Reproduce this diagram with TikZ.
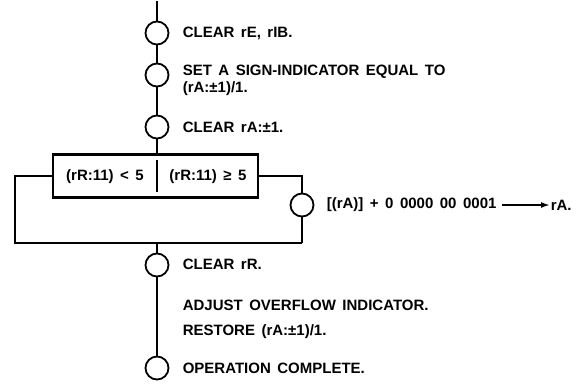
\documentclass[tikz,border=0pt]{standalone}
\usepackage{fontspec}
\setmainfont{Liberation Sans}
\usepackage{tikz}
\usetikzlibrary{arrows.meta,positioning}

\newcommand{\opfont}{\bfseries\fontsize{15}{17}\selectfont\spaceskip=6.5pt plus 1pt}

\begin{document}
\begin{tikzpicture}[
    x=1pt,y=-1pt,line width=1.6pt,
    opcircle/.style={draw,circle,minimum size=23pt,inner sep=0pt,line width=1.8pt},
    opnote/.style={anchor=west,align=left,inner sep=0pt,font=\opfont},
    testbox/.style={draw,line width=2.3pt,minimum width=205pt,minimum height=43pt,inner sep=0pt},
    testnote/.style={inner sep=0pt,font=\opfont},
    arrow/.style={-{Latex[length=9pt,width=6pt]},line width=2pt}
]
\useasboundingbox (0,0) rectangle (585,389);

% main line
\coordinate (start) at (157,1);
\node[opcircle] (clrE) at (157,33) {};
\node[opcircle] (sign) at (157,75) {};
\node[opcircle] (clrA) at (157,127) {};
\node[testbox] (tests) at (155.5,176) {};
\node[opcircle] (incr) at (302,205) {};
\node[opcircle] (clrR) at (157,265) {};
\node[opcircle] (done) at (157,368) {};
\coordinate (loopL) at (15,243);
\coordinate (loopR) at (302,243);

\node[opnote] (tclrE) at (182,33) {CLEAR rE, rIB.};
\node[opnote] (tsign) at (182,80) {SET A SIGN-INDICATOR EQUAL TO\\(rA:±1)/1.};
\node[opnote] (tclrA) at (182,127) {CLEAR rA:±1.};
\node[testnote] (lt) at (105,177) {(rR:11) < 5};
\node[testnote] (ge) at (208,177) {(rR:11) ≥ 5};
\node[opnote] (tincr) at (326,205) {[(rA)] + 0 0000 00 0001};
\node[opnote] (tincrA) at (550,205) {rA.};
\node[opnote] (tclrR) at (182,264) {CLEAR rR.};
\node[opnote] (tovf) at (182,305) {ADJUST OVERFLOW INDICATOR.};
\node[opnote] (trest) at (182,332) {RESTORE (rA:±1)/1.};
\node[opnote] (tdone) at (182,368) {OPERATION COMPLETE.};

\draw (start) -- (clrE);
\draw (clrE) -- (sign);
\draw (sign) -- (clrA);
\draw (clrA) -- (clrA |- tests.north);
\draw[line width=2.3pt] (157,160) -- (157,192);
\draw (tests.west) -| (loopL) -- (loopR);
\draw (tests.east) -| (incr);
\draw (incr) -- (loopR);
\draw (clrA |- loopL) -- (clrR);
\draw (clrR) -- (done);
\draw[arrow] (tincr.east) ++(5,0) -- (tincrA.west);
\end{tikzpicture}
\end{document}
